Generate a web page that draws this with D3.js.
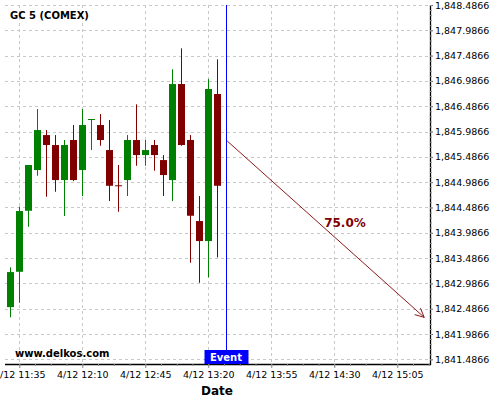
<!DOCTYPE html>
<html><head><meta charset="utf-8">
<script src="https://cdn.jsdelivr.net/npm/d3@7"></script>
<style>body{margin:0;background:#fff}svg{display:block;font-family:"DejaVu Sans",sans-serif}</style>
</head><body><div id="chart"></div>
<script>
const times = ["11:30","11:35","11:40","11:45","11:50","11:55","12:00","12:05","12:10","12:15","12:20","12:25","12:30","12:35","12:40","12:45","12:50","12:55","13:00","13:05","13:10","13:15","13:20","13:25"];
const opens  = [1842.518,1843.216,1844.421,1845.226,1845.917,1845.720,1845.028,1845.819,1845.226,1846.230,1846.115,1845.621,1844.925,1845.028,1845.819,1845.522,1845.720,1845.423,1845.028,1846.925,1845.819,1844.218,1843.823,1846.728];
const highs  = [1843.303,1844.501,1845.325,1846.431,1846.016,1845.917,1845.819,1846.115,1846.431,1846.234,1846.332,1846.214,1845.325,1845.917,1846.524,1845.819,1845.819,1845.522,1847.216,1847.631,1845.917,1844.712,1847.024,1847.413];
const lows   = [1842.315,1842.603,1844.105,1845.113,1844.698,1844.797,1844.317,1845.008,1844.712,1845.621,1845.706,1844.613,1844.402,1844.712,1845.311,1845.311,1845.212,1844.712,1844.613,1845.706,1843.394,1842.999,1843.105,1843.500];
const closes = [1843.210,1844.416,1845.325,1846.016,1845.720,1845.028,1845.720,1845.028,1846.115,1846.234,1845.819,1844.915,1844.921,1845.819,1845.522,1845.621,1845.522,1845.127,1846.925,1845.720,1844.323,1843.823,1846.827,1844.915];
const xTickLabels = ["11:35","12:10","12:45","13:20","13:55","14:30","15:05"];
const yTickValues = [1841.4866,1841.9866,1842.4866,1842.9866,1843.4866,1843.9866,1844.4866,1844.9866,1845.4866,1845.9866,1846.4866,1846.9866,1847.4866,1847.9866,1848.4866];
const title = "GC 5 (COMEX)";
const eventTime = "13:30";
const forecastStart = {time:"13:30", value:1845.799};
const forecastEnd = {time:"15:20", value:1842.315};
const forecastLabel = "75.0%";
const domainTimes = ["11:27:04","15:23:12"];
const yDomain = [1841.394, 1848.4866];

(function(){
const parse = s => { const p = s.split(":").map(Number); return new Date(2024,3,12,p[0],p[1],p[2]||0); };
const W=500,H=400, pL=5, pR=430, pT=5, pB=364;
const svg = d3.select("#chart").append("svg").attr("width",W).attr("height",H);
svg.append("rect").attr("width",W).attr("height",H).attr("fill","#fff");

const x = d3.scaleTime().domain(domainTimes.map(parse)).range([pL,pR]);
const y = d3.scaleLinear().domain(yDomain).range([pB,pT]);
const xTicks = xTickLabels.map(parse);
const fmtX = d3.timeFormat("%-m/%d %H:%M");

const grid = svg.append("g").attr("stroke","#c8c8c8").attr("stroke-dasharray","3,3").attr("stroke-width",1);
yTickValues.forEach(v=>grid.append("line").attr("x1",pL).attr("x2",pR).attr("y1",Math.round(y(v))+0.5).attr("y2",Math.round(y(v))+0.5));
xTicks.forEach(t=>grid.append("line").attr("x1",Math.round(x(t))+0.5).attr("x2",Math.round(x(t))+0.5).attr("y1",pT).attr("y2",pB));

const data = times.map((t,i)=>({t:parse(t),o:opens[i],h:highs[i],l:lows[i],c:closes[i]}));
const bw = 7;
const cg = svg.append("g");
data.forEach(d=>{
  const col = d.c>=d.o ? "#008000" : "#800000";
  const cx = Math.round(x(d.t));
  cg.append("line").attr("x1",cx+0.5).attr("x2",cx+0.5).attr("y1",y(d.h)).attr("y2",y(d.l)).attr("stroke",col).attr("stroke-width",1);
  const y0 = y(Math.max(d.o,d.c)), y1 = y(Math.min(d.o,d.c));
  cg.append("rect").attr("x",cx-3).attr("width",bw).attr("y",y0).attr("height",Math.max(1,y1-y0)).attr("fill",col);
});

svg.append("line").attr("x1",pL).attr("x2",pR+1).attr("y1",pB+0.5).attr("y2",pB+0.5).attr("stroke","#000").attr("stroke-width",1.3);
svg.append("line").attr("x1",pR+0.5).attr("x2",pR+0.5).attr("y1",pT).attr("y2",pB+1).attr("stroke","#000").attr("stroke-width",1.3);

const xAxis = d3.axisBottom(x).tickValues(xTicks).tickFormat(fmtX).tickSize(4).tickPadding(3);
const gx = svg.append("g").attr("transform",`translate(0,${pB})`).call(xAxis);
gx.select(".domain").remove();
gx.selectAll("text").attr("font-size","9.5px").attr("font-family","DejaVu Sans").attr("fill","#000");
gx.selectAll("line").attr("stroke","#888");
const step = (xTicks[1]-xTicks[0])/4;
const minorX = [];
for(let t=xTicks[0].getTime()-4*step; t<=x.domain()[1].getTime(); t+=step){ if(t>=x.domain()[0].getTime()) minorX.push(new Date(t)); }
const gxm = svg.append("g").attr("transform",`translate(0,${pB})`).call(d3.axisBottom(x).tickValues(minorX).tickFormat("").tickSize(2));
gxm.select(".domain").remove(); gxm.selectAll("line").attr("stroke","#888");

const yAxis = d3.axisRight(y).tickValues(yTickValues).tickFormat(d3.format(",.4f")).tickSize(3).tickPadding(2);
const gy = svg.append("g").attr("transform",`translate(${pR},0)`).call(yAxis);
gy.select(".domain").remove();
gy.selectAll("text").attr("font-size","9.5px").attr("font-family","DejaVu Sans").attr("fill","#000");
gy.selectAll("line").attr("stroke","#666");
const minorY = d3.range(0,71).map(i=>yTickValues[0]+i*0.1).filter(v=>v<=yDomain[1]+1e-9);
const gym = svg.append("g").attr("transform",`translate(${pR},0)`).call(d3.axisRight(y).tickValues(minorY).tickFormat("").tickSize(2));
gym.select(".domain").remove(); gym.selectAll("line").attr("stroke","#999");

const ex = Math.round(x(parse(eventTime)))+0.5;
svg.append("line").attr("x1",ex).attr("x2",ex).attr("y1",pT).attr("y2",350).attr("stroke","#0000ff").attr("stroke-width",1);
svg.append("rect").attr("x",ex-22).attr("y",350).attr("width",44).attr("height",14).attr("fill","#0000ff");
svg.append("text").attr("x",ex-0.5).attr("y",361).attr("text-anchor","middle").attr("fill","#fff").attr("font-weight","bold").attr("font-size","10px").text("Event");

const ax1 = x(parse(forecastStart.time))+1, ay1 = y(forecastStart.value);
const ax2 = x(parse(forecastEnd.time)), ay2 = y(forecastEnd.value);
const ac = "#8b1a1a";
svg.append("line").attr("x1",ax1).attr("y1",ay1).attr("x2",ax2).attr("y2",ay2).attr("stroke",ac).attr("stroke-width",1);
const ang = Math.atan2(ay2-ay1, ax2-ax1), hl=10, ha=0.45;
svg.append("path").attr("d",`M${ax2-hl*Math.cos(ang-ha)},${ay2-hl*Math.sin(ang-ha)}L${ax2},${ay2}L${ax2-hl*Math.cos(ang+ha)},${ay2-hl*Math.sin(ang+ha)}`).attr("fill","none").attr("stroke",ac).attr("stroke-width",1);
svg.append("text").attr("x",345).attr("y",227).attr("text-anchor","middle").attr("fill","#800000").attr("font-weight","bold").attr("font-size","12px").text(forecastLabel);

svg.append("text").attr("x",10).attr("y",19).attr("font-weight","bold").attr("font-size","10px").attr("fill","#000").text(title);
svg.append("text").attr("x",15).attr("y",357).attr("font-weight","bold").attr("font-size","10px").attr("fill","#000").text("www.delkos.com");
svg.append("text").attr("x",217).attr("y",395).attr("text-anchor","middle").attr("font-weight","bold").attr("font-size","12px").attr("fill","#000").text("Date");
})();
</script></body></html>
